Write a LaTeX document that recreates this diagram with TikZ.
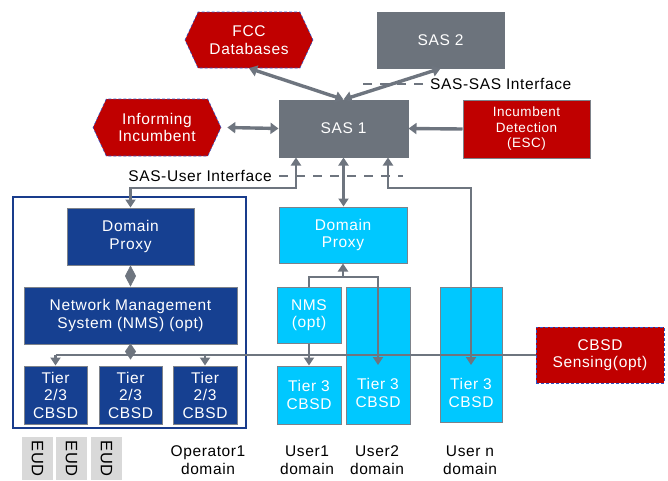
\documentclass[tikz,border=0pt]{standalone}
\usepackage{fontspec}
\setmainfont[LetterSpace=4]{Liberation Sans}
\usetikzlibrary{shapes.symbols,arrows.meta}
\tikzset{>={Triangle[length=8pt,width=11pt]}}
\definecolor{sasgray}{RGB}{108,115,124}
\definecolor{linegray}{RGB}{110,117,127}
\definecolor{edgegray}{RGB}{125,130,138}
\definecolor{incred}{RGB}{192,0,0}
\definecolor{opblue}{RGB}{22,64,145}
\definecolor{usercyan}{RGB}{0,200,255}
\definecolor{frameblue}{RGB}{25,60,140}
\definecolor{hexborder}{RGB}{45,85,200}
\definecolor{eudgray}{RGB}{217,217,217}
\newcommand\bigfont{\fontsize{15.5}{17.5}\selectfont}
\newcommand\smallfont{\fontsize{13.5}{15.5}\selectfont}

\tikzset{
  wh/.style 2 args={minimum width=#1pt, minimum height=#2pt},
  box/.style={rectangle, draw=edgegray, line width=1pt, text=white,
    align=center, inner sep=0pt, font=\bigfont},
  sasbox/.style={box, fill=sasgray, draw=sasgray},
  redbox/.style={box, fill=incred},
  redhex/.style={signal, signal to=east and west, signal pointer angle=130,
    fill=incred, draw=hexborder, densely dashed, line width=0.6pt,
    text=white, align=center, inner sep=0pt, font=\bigfont},
  opbox/.style={box, fill=opblue},
  userbox/.style={box, fill=usercyan},
  eud/.style={rectangle, fill=eudgray, rotate=-90, inner sep=0pt,
    font=\fontsize{16.5}{18}\selectfont},
  lbl/.style={inner sep=0pt, align=center, font=\bigfont},
  bigline/.style={draw=linegray, line width=3.4pt},
  line/.style={draw=linegray, line width=2.5pt,
    >={Triangle[length=8pt,width=10pt]}},
  ifline/.style={draw=linegray, line width=2.4pt, dash pattern=on 9pt off 8pt},
  diam/.style={draw=linegray, line width=0.4pt, fill=linegray,
    -{Diamond[length=#1pt,width=11pt]}},
}

\begin{document}
\begin{tikzpicture}[x=1pt,y=-1pt]
  \useasboundingbox (0,0) rectangle (668,480);

  % SAS level
  \node[redhex, wh={128}{56}] (fcc) at (249,40) {FCC\\Databases};
  \node[sasbox, wh={127}{56}] (sas2) at (440.5,40) {SAS 2};
  \node[redhex, wh={128}{57}] (inf) at (157,127.5) {Informing\\Incumbent};
  \node[sasbox, wh={129}{57}] (sas1) at (343.5,128.5) {SAS 1};
  \node[redbox, wh={127}{58}, font=\smallfont] (esc) at (526.5,129)
    {Incumbent\\Detection\\(ESC)};

  % interface labels
  \node[lbl, anchor=west] (sasif) at (430,84) {SAS-SAS Interface};
  \node[lbl, anchor=east] (userif) at (272,176) {SAS-User Interface};
  \draw[ifline] (sasif.west) ++(-7,0) -- ++(-63,0);
  \draw[ifline] (userif.east) ++(7,0) -- ++(124,0);

  % operator domain
  \draw[frameblue, line width=2pt] (13,197) rectangle (246,428);
  \node[opbox, wh={127}{57}] (dpop) at (130.5,236.5) {Domain\\Proxy};
  \node[opbox, wh={213}{57}] (nmsop) at (130.5,315.5)
    {Network Management\\System (NMS) (opt)};
  \node[opbox, wh={63}{58}] (tierA) at (55.5,395) {Tier\\2/3\\CBSD};
  \node[opbox, wh={63}{58}] (tierB) at (130.5,395) {Tier\\2/3\\CBSD};
  \node[opbox, wh={64}{58}] (tierC) at (205,395) {Tier\\2/3\\CBSD};
  \node[eud, wh={43}{31}] (eud1) at (37.5,458.5) {EUD};
  \node[eud, wh={43}{31}] (eud2) at (71.5,458.5) {EUD};
  \node[eud, wh={43}{31}] (eud3) at (106.5,458.5) {EUD};

  % user domains
  \node[userbox, wh={128}{56}] (dpus) at (343,235) {Domain\\Proxy};
  \node[userbox, wh={64}{56}] (nmsus) at (309,315) {NMS\\(opt)};
  \node[userbox, wh={64}{58}] (t3a) at (309,395) {Tier 3\\CBSD};
  \node[userbox, wh={64}{137}] (t3b) at (378,355.5) {};
  \node[lbl, text=white] (t3btxt) at (378,393) {Tier 3\\CBSD};
  \node[userbox, wh={62}{135}] (t3n) at (471,354.5) {};
  \node[lbl, text=white] (t3ntxt) at (471,393) {Tier 3\\CBSD};
  \node[redbox, draw=hexborder, densely dashed, line width=0.6pt, wh={128}{56}]
    (sens) at (600,355) {CBSD\\Sensing(opt)};

  % domain labels
  \node[lbl] (oplbl) at (208,460) {Operator1\\domain};
  \node[lbl] (u1lbl) at (307,460) {User1\\domain};
  \node[lbl] (u2lbl) at (377,460) {User2\\domain};
  \node[lbl] (unlbl) at (470,460) {User n\\domain};

  % SAS arrows
  \draw[bigline, <->] (fcc.south) -- (sas1.north);
  \draw[bigline, <->] (sas2.south) -- (sas1.north);
  \draw[bigline, <->] ([xshift=6pt]inf.east) -- (sas1.west);
  \draw[bigline, ->] (esc.west) -- (sas1.east);

  % SAS-user arrows
  \coordinate (ul) at (296,188);
  \coordinate (ur) at (388,188);
  \draw[line, <->] (ul |- sas1.south) -- (ul) -| (dpop.north);
  \draw[line, <->] (sas1.south) -- (sas1.south |- dpus.north);
  \draw[line, <->] (ur |- sas1.south) -- (ur) -| ([yshift=-10.5pt]t3n.center);

  % inside operator domain
  \draw[diam=21] (dpop.south) -- (nmsop.north);
  \draw[line] (tierA.north |- sens.west) -- (sens.west);
  \draw[line, ->] (tierA.north |- sens.west) -- (tierA.north);
  \draw[line, ->] (tierC.north |- sens.west) -- (tierC.north);
  \draw[diam=16] (nmsop.south) -- ([yshift=6pt]tierB.north);

  % inside user domains
  \coordinate (ub) at (343,277);
  \draw[line, ->] (nmsus.north) |- (ub) -| ([yshift=-9.5pt]t3b.center);
  \draw[line, ->] (ub) -- (dpus.south);
  \draw[line, ->] (nmsus.south) -- (t3a.north);
\end{tikzpicture}
\end{document}
